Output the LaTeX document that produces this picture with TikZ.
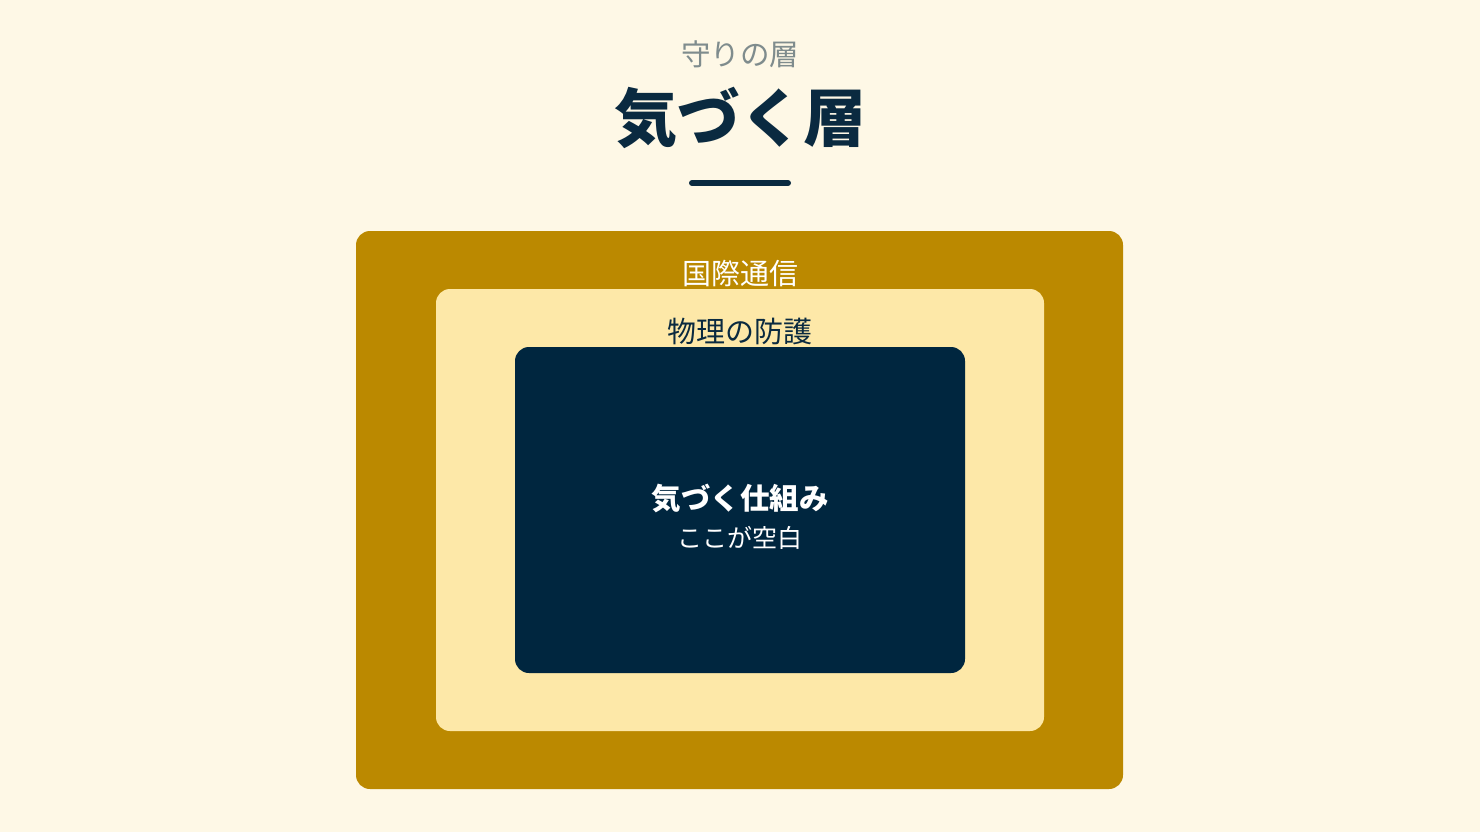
\documentclass[tikz,border=0pt]{standalone}
\usepackage{fontspec}
\newfontfamily\jp{Noto Sans CJK JP}
\definecolor{bgc}{HTML}{FEF8E6}
\definecolor{outerc}{HTML}{BB8900}
\definecolor{midc}{HTML}{FDE8A8}
\definecolor{innerc}{HTML}{00263F}
\definecolor{navy}{HTML}{0A2A40}
\definecolor{grayt}{HTML}{7F8C8D}
\begin{document}
\begin{tikzpicture}[x=1pt,y=-1pt,
  layer/.style={rounded corners=14pt},
  lbl/.style={font=\jp\fontsize{29}{33}\selectfont, inner sep=0pt, anchor=center}]
\fill[bgc] (0,0) rectangle (1480,832);
\useasboundingbox (0,0) rectangle (1480,832);
\node[lbl, text=grayt, font=\jp\fontsize{29.5}{33}\selectfont] (sub) at (740,54) {守りの層};
\node[inner sep=0pt, text=navy, font=\jp\bfseries\fontsize{63}{70}\selectfont] (title) at (740,118) {気づく層};
\coordinate (barL) at (692,183);
\coordinate (barR) at (788,183);
\draw[navy, line width=6pt, line cap=round] (barL) -- (barR);
\fill[outerc, layer] (356,231) rectangle (1123,789);
\fill[midc, layer] (436,289) rectangle (1044,731);
\fill[innerc, layer] (515,347) rectangle (965,673);
\node[lbl, text=white] (l1) at (740,274) {国際通信};
\node[lbl, text=navy] (l2) at (740,331) {物理の防護};
\node[lbl, text=white, font=\jp\bfseries\fontsize{29.5}{33}\selectfont] (l3) at (740,498) {気づく仕組み};
\node[lbl, text=white, font=\jp\fontsize{25}{29}\selectfont] (l4) at (740,538) {ここが空白};
\end{tikzpicture}
\end{document}
